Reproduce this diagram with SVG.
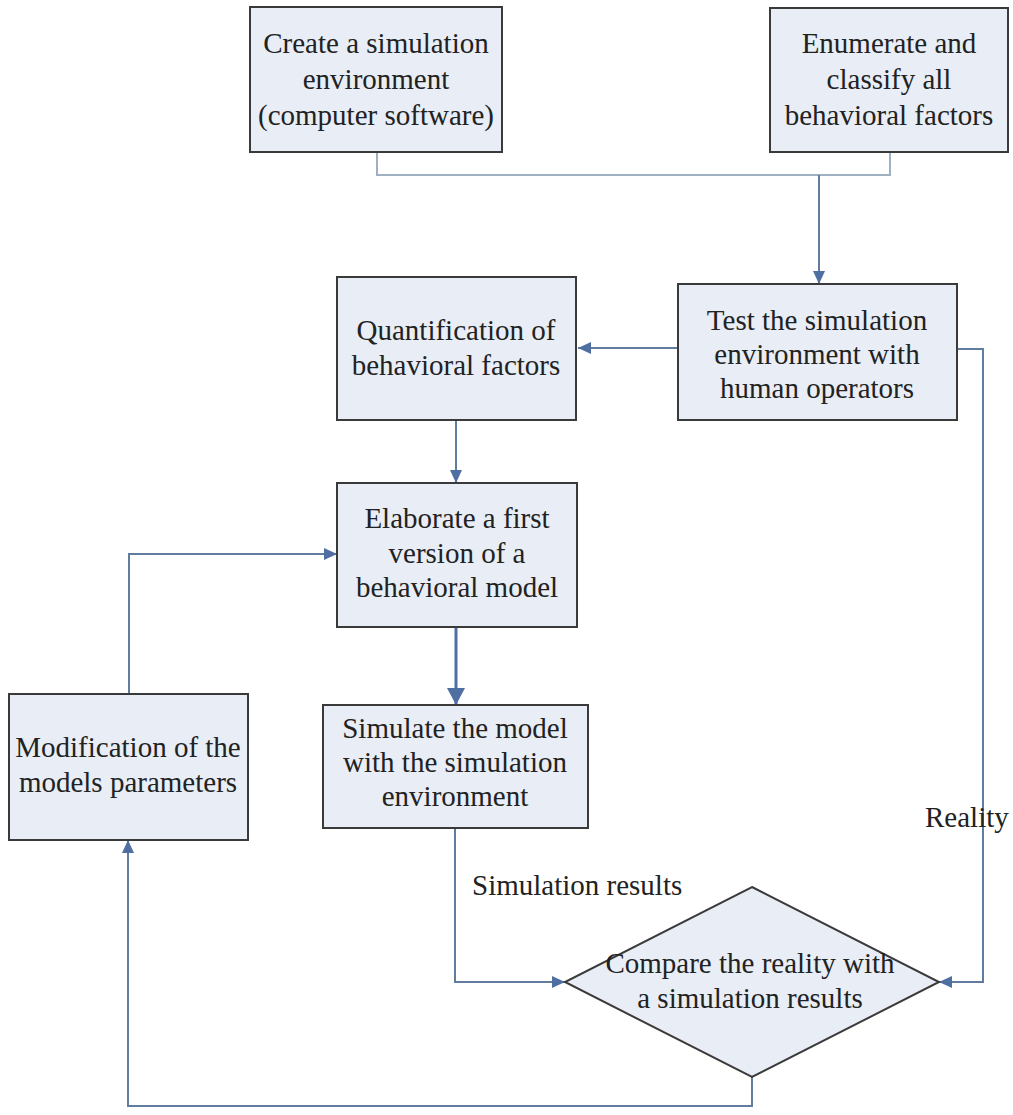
<svg xmlns="http://www.w3.org/2000/svg" width="1013" height="1115" viewBox="0 0 1013 1115">
<style>
.box{fill:#e8edf6;stroke:#3a3a3a;stroke-width:2}
.t{font-family:"Liberation Serif","Times New Roman",serif;font-size:29px;fill:#222;text-anchor:middle}
.lbl{font-family:"Liberation Serif","Times New Roman",serif;font-size:29px;fill:#222}
.c{fill:none;stroke:#607c9e;stroke-width:2}
.cl{fill:none;stroke:#9fb0c2;stroke-width:2}
.ct{fill:none;stroke:#4f6fa3;stroke-width:3}
</style>
<defs>
<marker id="a" markerUnits="userSpaceOnUse" markerWidth="14" markerHeight="12" refX="13" refY="6" orient="auto"><path d="M0,0 L13,6 L0,12 z" fill="#4f6fa3"/></marker>
<marker id="ab" markerUnits="userSpaceOnUse" markerWidth="18" markerHeight="18" refX="17" refY="9" orient="auto"><path d="M0,0 L17,9 L0,18 z" fill="#4f6fa3"/></marker>
</defs>
<rect width="1013" height="1115" fill="#fff"/>
<g id="connectors">
<path class="cl" d="M377,152 V175 H890 V152"/>
<path class="c" d="M819,175 V284" marker-end="url(#a)"/>
<path class="c" d="M678,348 H578" marker-end="url(#a)"/>
<path class="c" d="M957,349 H983 V982 H939" marker-end="url(#a)"/>
<path class="c" d="M456,420 V483" marker-end="url(#a)"/>
<path class="ct" d="M456,627 V705" marker-end="url(#ab)"/>
<path class="c" d="M455,828 V982 H565" marker-end="url(#a)"/>
<path class="c" d="M752,1077 V1106 H128 V840" marker-end="url(#a)"/>
<path class="c" d="M129,694 V554 H337" marker-end="url(#a)"/>
</g>
<g id="create">
<rect class="box" x="250" y="7" width="252" height="145"/>
<text class="t" x="376" y="53">Create a simulation</text>
<text class="t" x="376" y="89">environment</text>
<text class="t" x="376" y="125">(computer software)</text>
</g>
<g id="enumerate">
<rect class="box" x="770" y="8" width="238" height="144"/>
<text class="t" x="889" y="53">Enumerate and</text>
<text class="t" x="889" y="89">classify all</text>
<text class="t" x="889" y="125">behavioral factors</text>
</g>
<g id="test">
<rect class="box" x="678" y="284" width="279" height="136"/>
<text class="t" x="817" y="330">Test the simulation</text>
<text class="t" x="817" y="364">environment with</text>
<text class="t" x="817" y="398">human operators</text>
</g>
<g id="quant">
<rect class="box" x="337" y="277" width="239" height="143"/>
<text class="t" x="456" y="340">Quantification of</text>
<text class="t" x="456" y="375">behavioral factors</text>
</g>
<g id="elaborate">
<rect class="box" x="337" y="483" width="240" height="144"/>
<text class="t" x="457" y="528">Elaborate a first</text>
<text class="t" x="457" y="563">version of a</text>
<text class="t" x="457" y="597">behavioral model</text>
</g>
<g id="simulate">
<rect class="box" x="323" y="705" width="265" height="123"/>
<text class="t" x="455" y="738">Simulate the model</text>
<text class="t" x="455" y="772">with the simulation</text>
<text class="t" x="455" y="806">environment</text>
</g>
<g id="modification">
<rect class="box" x="9" y="694" width="239" height="146"/>
<text class="t" x="128" y="757">Modification of the</text>
<text class="t" x="128" y="792">models parameters</text>
</g>
<g id="compare">
<path class="box" d="M752,887 L939,982 L752,1077 L565,982 Z"/>
<text class="t" x="750" y="973">Compare the reality with</text>
<text class="t" x="750" y="1008">a simulation results</text>
</g>
<g id="labels">
<text class="lbl" x="472" y="895">Simulation results</text>
<text class="lbl" x="925" y="827">Reality</text>
</g>
</svg>
